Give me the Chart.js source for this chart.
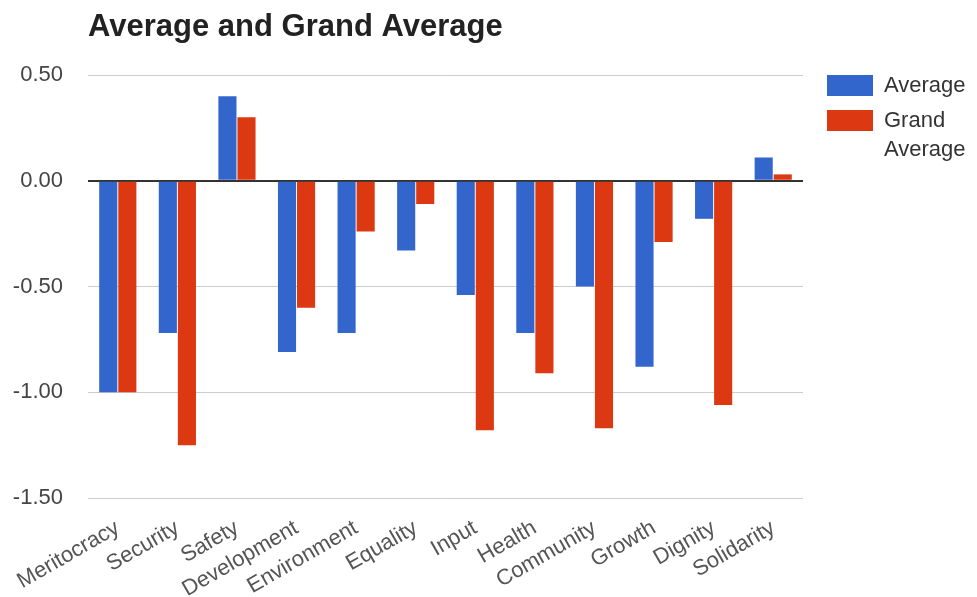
<!DOCTYPE html>
<html lang="en">
<head>
    <meta charset="UTF-8">
    <title>Average and Grand Average</title>
    <script src="https://cdn.jsdelivr.net/npm/chart.js@4.4.0/dist/chart.umd.min.js"></script>
    <style>
        html, body { margin: 0; padding: 0; background: #fff; }
        #wrap { width: 977px; height: 597px; }
    </style>
</head>
<body>
<div id="wrap"><canvas id="myChart" width="977" height="597"></canvas></div>

<script>
    // categories and values
    var categories = ['Meritocracy', 'Security', 'Safety', 'Development', 'Environment', 'Equality',
        'Input', 'Health', 'Community', 'Growth', 'Dignity', 'Solidarity'];
    var average = [-1.00, -0.72, 0.40, -0.81, -0.72, -0.33, -0.54, -0.72, -0.50, -0.88, -0.18, 0.11];
    var grandAverage = [-1.00, -1.25, 0.30, -0.60, -0.24, -0.11, -1.18, -0.91, -1.17, -0.29, -1.06, 0.03];
    var yTicks = [-1.5, -1.0, -0.5, 0.0, 0.5];

    var seriesNames = ['Average', ['Grand', 'Average']];
    var blue = '#3366cc';
    var red = '#dc3912';
    var fontFamily = '"Liberation Sans", Arial, sans-serif';

    // title + wrapped legend, drawn by hand
    var decorations = {
        id: 'decorations',
        afterDraw: function (chart) {
            var c = chart.ctx;
            var area = chart.chartArea;
            c.save();
            c.fillStyle = '#222';
            c.font = 'bold 31px ' + fontFamily;
            c.textBaseline = 'alphabetic';
            c.fillText('Average and Grand Average', area.left, 36);

            var colors = [blue, red];
            var x = area.right + 24;
            var y = area.top;
            c.font = '22px ' + fontFamily;
            c.textBaseline = 'middle';
            seriesNames.forEach(function (name, i) {
                var lines = Array.isArray(name) ? name : [name];
                c.fillStyle = colors[i];
                c.fillRect(x, y, 46, 21);
                c.fillStyle = '#333';
                lines.forEach(function (line, j) {
                    c.fillText(line, x + 57, y + 11 + j * 29);
                });
                y += 35;
            });
            c.restore();
        }
    };

    var ctx = document.getElementById('myChart').getContext('2d');
    var chart = new Chart(ctx, {
        type: 'bar',
        data: {
            labels: categories,
            datasets: [{
                label: 'Average',
                backgroundColor: blue,
                data: average
            }, {
                label: 'Grand Average',
                backgroundColor: red,
                data: grandAverage
            }]
        },
        options: {
            responsive: false,
            animation: false,
            layout: { padding: { top: 75, right: 174, bottom: 0, left: 0 } },
            datasets: {
                bar: { barPercentage: 0.95, categoryPercentage: 0.64 }
            },
            plugins: {
                legend: { display: false },
                title: { display: false },
                tooltip: { enabled: false }
            },
            scales: {
                x: {
                    grid: { display: false },
                    border: { display: false },
                    ticks: {
                        color: '#555',
                        font: { family: fontFamily, size: 22 },
                        minRotation: 30,
                        maxRotation: 30,
                        autoSkip: false,
                        padding: 9
                    },
                    afterFit: function (s) {
                        s.height = 99;
                        s.paddingLeft = 0;
                        s.paddingRight = 0;
                    }
                },
                y: {
                    min: -1.5,
                    max: 0.5,
                    afterBuildTicks: function (s) {
                        s.ticks = yTicks.map(function (v) { return { value: v }; });
                    },
                    grid: {
                        color: function (c) {
                            return c.tick && c.tick.value === 0 ? '#333' : '#cccccc';
                        },
                        lineWidth: function (c) {
                            return c.tick && c.tick.value === 0 ? 2 : 1;
                        },
                        drawTicks: false
                    },
                    border: { display: false },
                    ticks: {
                        color: '#444',
                        font: { family: fontFamily, size: 22 },
                        padding: 25,
                        callback: function (v) { return Number(v).toFixed(2); }
                    },
                    afterFit: function (s) {
                        s.width = 88;
                        s.paddingTop = 0;
                        s.paddingBottom = 0;
                    }
                }
            }
        },
        plugins: [decorations]
    });
</script>
</body>
</html>
